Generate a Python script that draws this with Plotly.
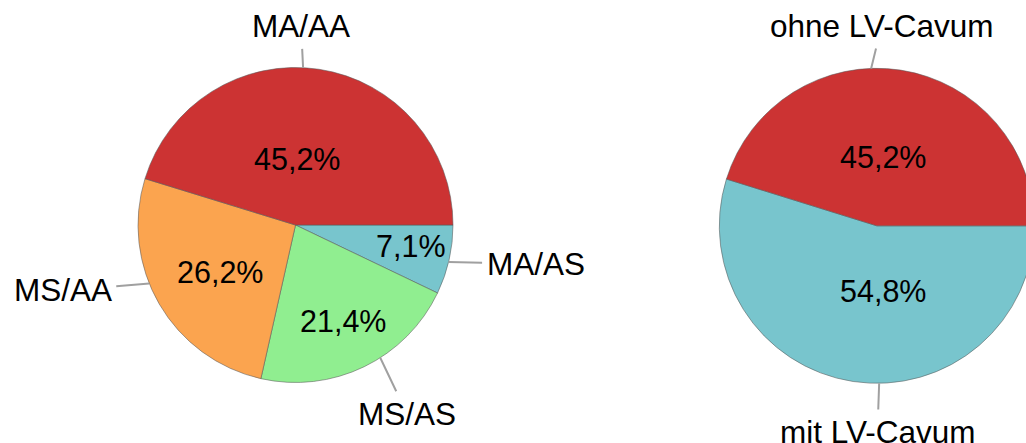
import math
import plotly.graph_objects as go

# ---------------- data ----------------
left_labels = ["MA/AA", "MS/AA", "MS/AS", "MA/AS"]
left_values = [45.2, 26.2, 21.4, 7.1]
right_labels = ["ohne LV-Cavum", "mit LV-Cavum"]
right_values = [45.2, 54.8]

# ---------------- style ----------------
left_colors = ["#CC3333", "#FBA44F", "#90EE90", "#78C5CD"]
right_colors = ["#CC3333", "#78C5CD"]
FONT = "Liberation Sans, Arial, sans-serif"
LABEL_SIZE = 31.5
PCT_SIZE = 30.5
LINE_COLOR = "#A0A0A0"

W, H = 1040, 443          # figure is slightly wider than the window; the right pie is cut off
RADIUS = 157.5
LEFT_CENTER = (295.5, 225.0)
RIGHT_CENTER = (876.8, 225.8)

# label placement: (angle nudge from slice middle, text dx px, text dy px)
left_label_pos = [(5.8, -2, -41.3), (-8.3, -86.5, 7), (6.7, 26.7, 56), (-0.8, 87, 2)]
right_label_pos = [(10.7, 10.4, -42.4), (9.5, -1.7, 48.7)]
# percentage placement: (angle nudge from slice middle, radial fraction)
left_pct_pos = [(7.6, 0.421), (1.7, 0.566), (0.55, 0.682), (2.6, 0.743)]
right_pct_pos = [(3.2, 0.436), (14.3, 0.415)]


def domain(center):
    cx, cy = center
    return dict(x=[(cx - RADIUS) / W, (cx + RADIUS) / W],
                y=[1 - (cy + RADIUS) / H, 1 - (cy - RADIUS) / H])


def mid_angles(values):
    """Middle angle of each slice, counterclockwise from 3 o'clock."""
    tot = sum(values)
    out, cum = [], 0.0
    for v in values:
        out.append(360.0 * (cum + v / 2) / tot)
        cum += v
    return out


def to_paper(px, py):
    return px / W, 1 - py / H


def fmt(v):
    return f"{v:.1f}".replace(".", ",") + "%"


fig = go.Figure()
annotations = []

for labels, values, colors, center, lpos, ppos in [
    (left_labels, left_values, left_colors, LEFT_CENTER, left_label_pos, left_pct_pos),
    (right_labels, right_values, right_colors, RIGHT_CENTER, right_label_pos, right_pct_pos),
]:
    # slices run counterclockwise from 3 o'clock: drawn clockwise in reverse order
    fig.add_trace(go.Pie(
        labels=labels[::-1], values=values[::-1], sort=False, direction="clockwise",
        rotation=90, textinfo="none", hoverinfo="label+percent",
        marker=dict(colors=colors[::-1], line=dict(color="rgba(90,90,90,0.55)", width=1)),
        domain=domain(center), showlegend=False,
    ))
    cx, cy = center
    mids = mid_angles(values)
    for lab, v, m, (nud, dx, dy), (pn, pr) in zip(labels, values, mids, lpos, ppos):
        # outside label with leader line
        a = math.radians(m + nud)
        px, py = cx + RADIUS * math.cos(a), cy - RADIUS * math.sin(a)
        x, y = to_paper(px, py)
        annotations.append(dict(
            x=x, y=y, xref="paper", yref="paper", text=lab, showarrow=True,
            ax=dx, ay=dy, arrowhead=0, arrowwidth=2, arrowcolor=LINE_COLOR,
            standoff=0, borderpad=4, xanchor="center", yanchor="middle",
            font=dict(family=FONT, size=LABEL_SIZE, color="black"),
        ))
        # percentage inside slice
        b = math.radians(m + pn)
        qx, qy = cx + RADIUS * pr * math.cos(b), cy - RADIUS * pr * math.sin(b)
        x2, y2 = to_paper(qx, qy)
        annotations.append(dict(
            x=x2, y=y2, xref="paper", yref="paper", text=fmt(v), showarrow=False,
            xanchor="center", yanchor="middle",
            font=dict(family=FONT, size=PCT_SIZE, color="black"),
        ))

fig.update_layout(
    width=W, height=H, margin=dict(l=0, r=0, t=0, b=0, pad=0, autoexpand=False),
    paper_bgcolor="white", plot_bgcolor="white",
    annotations=annotations,
)

fig.write_html(
    "out.html",
    config={"displayModeBar": False},
    post_script="document.body.style.margin='0';document.body.style.overflow='hidden';"
                "document.documentElement.style.overflow='hidden';",
)
